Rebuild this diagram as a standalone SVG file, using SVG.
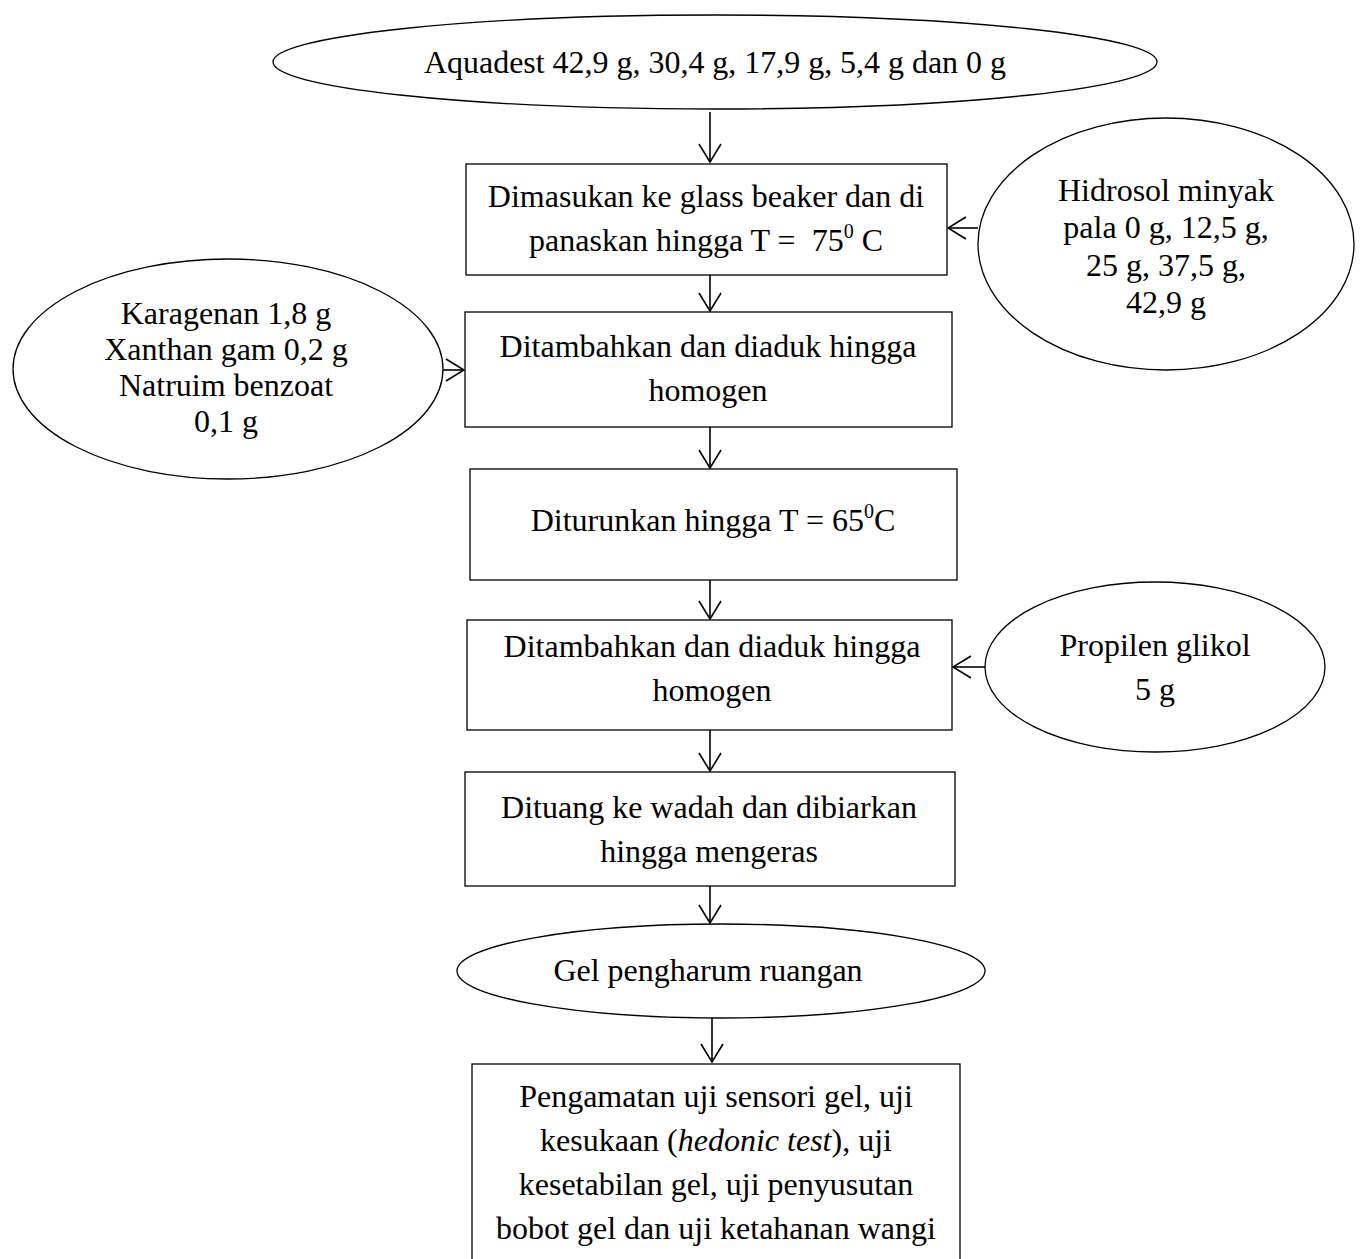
<svg xmlns="http://www.w3.org/2000/svg" width="1360" height="1259" viewBox="0 0 1360 1259">
<style>
.n{fill:#fff;stroke:#000;stroke-width:1.3}
.t{font-family:"Liberation Serif","Times New Roman",serif;font-size:32px;fill:#000;text-anchor:middle}
.c{fill:none;stroke:#000;stroke-width:1.6}
</style>
<defs>
<marker id="a" viewBox="0 0 20 24" refX="19" refY="12" markerWidth="20" markerHeight="24" markerUnits="userSpaceOnUse" orient="auto">
<path d="M1,1 L19,12 L1,23" fill="none" stroke="#000" stroke-width="1.6"/>
</marker>
</defs>
<rect width="1360" height="1259" fill="#fff"/>
<g id="n1"><ellipse class="n" cx="715" cy="62" rx="442" ry="47"/><text class="t" x="715" y="73" textLength="582" lengthAdjust="spacingAndGlyphs">Aquadest 42,9 g, 30,4 g, 17,9 g, 5,4 g dan 0 g</text></g>
<g id="n2"><rect class="n" x="466" y="164" width="481" height="111"/><text class="t" x="706" y="207">Dimasukan ke glass beaker dan di</text><text class="t" x="706" y="251" xml:space="preserve">panaskan hingga T =  75<tspan dy="-13" font-size="20">0</tspan><tspan dy="13"> C</tspan></text></g>
<g id="n3"><ellipse class="n" cx="1166" cy="244" rx="188" ry="126"/><text class="t" x="1166" y="201">Hidrosol minyak</text><text class="t" x="1166" y="238">pala 0 g, 12,5 g,</text><text class="t" x="1166" y="276">25 g, 37,5 g,</text><text class="t" x="1166" y="313">42,9 g</text></g>
<g id="n4"><ellipse class="n" cx="228" cy="369" rx="215" ry="110"/><text class="t" x="226" y="324">Karagenan 1,8 g</text><text class="t" x="226" y="360">Xanthan gam 0,2 g</text><text class="t" x="226" y="396">Natruim benzoat</text><text class="t" x="226" y="432">0,1 g</text></g>
<g id="n5"><rect class="n" x="465" y="312" width="487" height="115"/><text class="t" x="708" y="357">Ditambahkan dan diaduk hingga</text><text class="t" x="708" y="401">homogen</text></g>
<g id="n6"><rect class="n" x="470" y="469" width="487" height="111"/><text class="t" x="713" y="531">Diturunkan hingga T = 65<tspan dy="-13" font-size="20">0</tspan><tspan dy="13">C</tspan></text></g>
<g id="n7"><rect class="n" x="467" y="620" width="485" height="110"/><text class="t" x="712" y="657">Ditambahkan dan diaduk hingga</text><text class="t" x="712" y="701">homogen</text></g>
<g id="n8"><ellipse class="n" cx="1155" cy="667" rx="170" ry="85"/><text class="t" x="1155" y="656">Propilen glikol</text><text class="t" x="1155" y="700">5 g</text></g>
<g id="n9"><rect class="n" x="465" y="772" width="490" height="114"/><text class="t" x="709" y="818">Dituang ke wadah dan dibiarkan</text><text class="t" x="709" y="862">hingga mengeras</text></g>
<g id="n10"><ellipse class="n" cx="721" cy="971" rx="264" ry="47"/><text class="t" x="708" y="981">Gel pengharum ruangan</text></g>
<g id="n11"><rect class="n" x="472" y="1064" width="488" height="200"/><text class="t" x="716" y="1107">Pengamatan uji sensori gel, uji</text><text class="t" x="716" y="1151">kesukaan (<tspan font-style="italic">hedonic test</tspan>), uji</text><text class="t" x="716" y="1195">kesetabilan gel, uji penyusutan</text><text class="t" x="716" y="1239">bobot gel dan uji ketahanan wangi</text></g>
<g id="connectors">
<line class="c" x1="710" y1="112" x2="710" y2="162" marker-end="url(#a)"/>
<line class="c" x1="710" y1="275" x2="710" y2="311" marker-end="url(#a)"/>
<line class="c" x1="443" y1="370" x2="464" y2="370" marker-end="url(#a)"/>
<line class="c" x1="978" y1="228" x2="948" y2="228" marker-end="url(#a)"/>
<line class="c" x1="710" y1="427" x2="710" y2="468" marker-end="url(#a)"/>
<line class="c" x1="710" y1="580" x2="710" y2="619" marker-end="url(#a)"/>
<line class="c" x1="985" y1="667" x2="953" y2="667" marker-end="url(#a)"/>
<line class="c" x1="710" y1="730" x2="710" y2="771" marker-end="url(#a)"/>
<line class="c" x1="710" y1="886" x2="710" y2="923" marker-end="url(#a)"/>
<line class="c" x1="712" y1="1018" x2="712" y2="1062" marker-end="url(#a)"/>
</g>
</svg>
